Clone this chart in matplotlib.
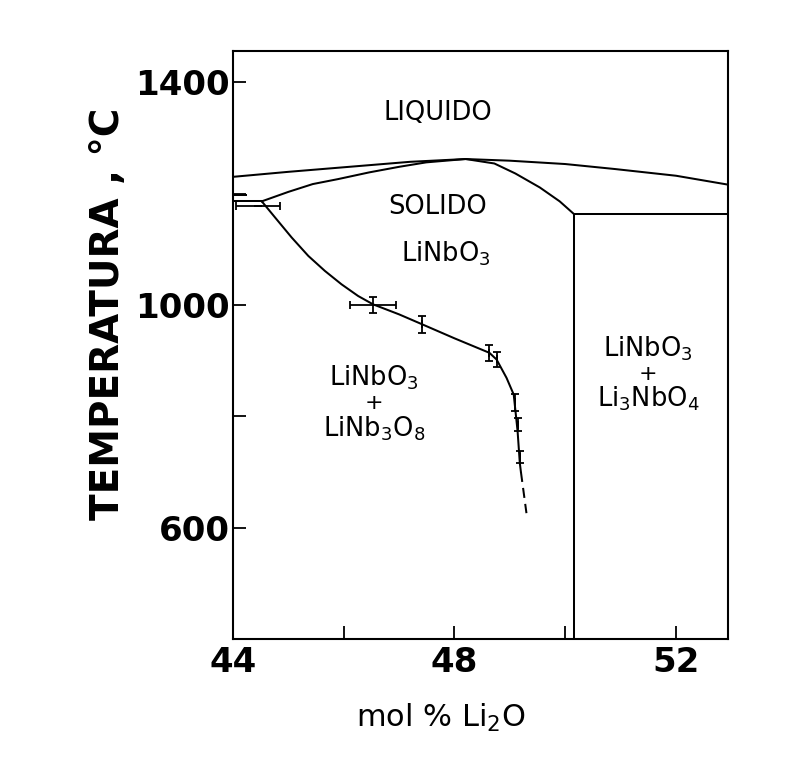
import matplotlib
matplotlib.use("Agg")
import matplotlib.pyplot as plt
from matplotlib.ticker import FixedLocator

# ---- data ----
liquidus_x = [44.0, 45.0, 46.1, 47.2, 48.2, 49.0, 50.0, 50.9, 52.0, 52.94]
liquidus_T = [1230, 1239, 1248, 1257, 1262, 1259, 1253, 1244, 1232, 1216]

solidus_x = [44.52, 45.0, 45.44, 45.9, 46.46, 47.0, 47.49, 48.2, 48.72, 49.1, 49.54, 49.9, 50.16]
solidus_T = [1186, 1203, 1217, 1226, 1238, 1248, 1256, 1262, 1254, 1236, 1211, 1186, 1163]

eutectic_x = [44.0, 44.52]
eutectic_T = [1186, 1186]
eutectic2_x = [44.0, 44.24]
eutectic2_T = [1198, 1198]

solvus_x = [44.52, 44.76, 45.06, 45.36, 45.66, 45.96, 46.26, 46.53, 47.0, 47.42,
            48.0, 48.63, 48.76, 48.94, 49.07, 49.14, 49.18, 49.2]
solvus_T = [1186, 1157, 1121, 1088, 1061, 1037, 1016, 1001, 983, 965,
            940, 914, 902, 869, 839, 773, 716, 700]
dashed_x = [49.2, 49.3]
dashed_T = [700, 626]

pts_x = [44.45, 46.53, 47.42, 48.63, 48.76, 49.1, 49.15, 49.18]
pts_T = [1178, 1000, 965, 914, 902, 825, 785, 727]
pts_xerr = [0.4, 0.42, 0, 0, 0, 0, 0, 0]
pts_yerr = [0, 15, 15, 14, 14, 15, 12, 11]

boundary_x = [50.16, 50.16, 52.94]
boundary_T = [400, 1163, 1163]

xmajor = [44, 48, 52]
xminor = [46, 50]
ymajor = [600, 1000, 1400]
yminor = [800, 1200]

# ---- figure ----
fig = plt.figure(figsize=(7.92, 7.71), dpi=100)
ax = fig.add_axes([233/792, 1 - 639/771, (728-233)/792, (639-51)/771])
ax.set_xlim(44, 52.94)
ax.set_ylim(400, 1456)

lw = 1.45
c = "black"
ax.plot(liquidus_x, liquidus_T, color=c, lw=lw)
ax.plot(solidus_x, solidus_T, color=c, lw=lw)
ax.plot(eutectic_x, eutectic_T, color=c, lw=lw)
ax.plot(eutectic2_x, eutectic2_T, color=c, lw=lw)
ax.plot(solvus_x, solvus_T, color=c, lw=lw)
ax.plot(dashed_x, dashed_T, color=c, lw=lw, linestyle=(0, (5, 3)))
ax.plot(boundary_x, boundary_T, color=c, lw=lw)
ax.errorbar(pts_x, pts_T, xerr=pts_xerr, yerr=pts_yerr, fmt="none",
            ecolor=c, elinewidth=1.3, capsize=3, capthick=1.3)

# region labels
fs = 18.5
ax.text(47.7, 1345, "LIQUIDO", ha="center", va="center", fontsize=fs)
ax.text(47.7, 1175, "SOLIDO", ha="center", va="center", fontsize=fs)
ax.text(47.85, 1092, r"LiNbO$_3$", ha="center", va="center", fontsize=fs)
ax.text(46.55, 870, r"LiNbO$_3$", ha="center", va="center", fontsize=fs)
ax.text(46.55, 823, "+", ha="center", va="center", fontsize=16)
ax.text(46.55, 778, r"LiNb$_3$O$_8$", ha="center", va="center", fontsize=fs)
ax.text(51.5, 922, r"LiNbO$_3$", ha="center", va="center", fontsize=fs)
ax.text(51.5, 876, "+", ha="center", va="center", fontsize=16)
ax.text(51.5, 831, r"Li$_3$NbO$_4$", ha="center", va="center", fontsize=fs)

# axes styling
for s in ax.spines.values():
    s.set_linewidth(1.5)
ax.xaxis.set_major_locator(FixedLocator(xmajor))
ax.xaxis.set_minor_locator(FixedLocator(xminor))
ax.yaxis.set_major_locator(FixedLocator(ymajor))
ax.yaxis.set_minor_locator(FixedLocator(yminor))
ax.set_xticklabels([str(v) for v in xmajor])
ax.set_yticklabels([str(v) for v in ymajor])
ax.tick_params(which="both", direction="in", length=9.5, width=1.3,
               top=False, right=False)
ax.tick_params(axis="x", which="major", pad=5)
ax.tick_params(axis="y", which="major", pad=2)
for lab in ax.get_xticklabels() + ax.get_yticklabels():
    lab.set_fontsize(24.5)
    lab.set_fontweight("bold")

fig.text(0.136, 0.593, "TEMPERATURA , °C", rotation=90, ha="center",
         va="center", fontsize=28, fontweight="bold")
fig.text(0.557, 0.069, r"mol % Li$_2$O", ha="center", va="center", fontsize=22)

fig.savefig("out.png", dpi=100)
